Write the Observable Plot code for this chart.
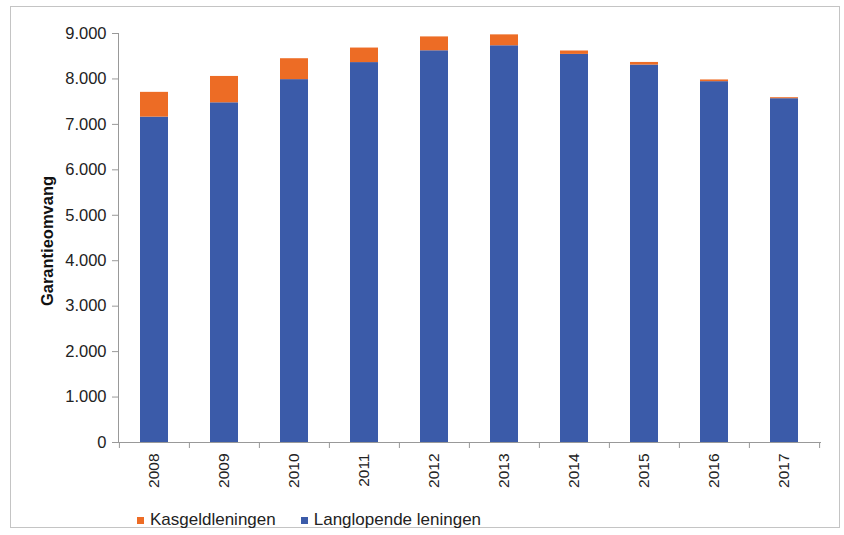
<!DOCTYPE html>
<html>
<head>
<meta charset="utf-8">
<script src="https://cdn.jsdelivr.net/npm/d3@7"></script>
<script src="https://cdn.jsdelivr.net/npm/@observablehq/plot@0.6"></script>
<style>
  html, body { margin: 0; padding: 0; background: #fff; }
  body { width: 844px; height: 535px; position: relative; overflow: hidden; font-family: "Liberation Sans", Arial, sans-serif; }
  #frame { position: absolute; left: 10px; top: 6px; width: 830px; height: 522px; border: 1px solid #c4c4c4; box-sizing: border-box; }
  #chart { position: absolute; left: 0; top: 0; }
  #legend { position: absolute; left: 137px; top: 509px; display: flex; align-items: center; font-size: 17px; color: #222; line-height: 22px; }
  .item { display: flex; align-items: center; margin-right: 25px; }
  .sw { width: 7px; height: 7px; margin-right: 6px; }
</style>
</head>
<body>
<div id="frame"></div>
<div id="chart"></div>
<div id="legend"></div>
<script>
const years = ["2008","2009","2010","2011","2012","2013","2014","2015","2016","2017"];
const langlopende = [7160, 7475, 7985, 8360, 8620, 8730, 8540, 8305, 7940, 7565];
const kasgeld = [545, 580, 460, 320, 305, 240, 75, 58, 38, 22];
const seriesNames = ["Langlopende leningen", "Kasgeldleningen"];
const seriesColors = ["#3b5ba9", "#ed6c25"];
const yTicks = [0, 1000, 2000, 3000, 4000, 5000, 6000, 7000, 8000, 9000];

const rows = [];
years.forEach((y, i) => {
  rows.push({year: y, series: seriesNames[0], value: langlopende[i]});
  rows.push({year: y, series: seriesNames[1], value: kasgeld[i]});
});

const W = 844, H = 500;
const mL = 118, mR = 24, mT = 33, mB = 58;
const step = (W - mL - mR) / years.length;
const fmt = d => d === 0 ? "0" : d3.format(",")(d).replace(/,/g, ".");

const chart = Plot.plot({
  width: W, height: H,
  marginLeft: mL, marginRight: mR, marginTop: mT, marginBottom: mB,
  style: {fontFamily: "'Liberation Sans', Arial, sans-serif", color: "#222", background: "transparent"},
  x: {domain: years, paddingInner: 0.6, paddingOuter: 0.3, label: null, axis: null},
  y: {domain: [0, 9000], label: null, axis: null},
  color: {domain: seriesNames, range: seriesColors},
  marks: [
    Plot.barY(rows, Plot.stackY({x: "year", y: "value", fill: "series", order: seriesNames})),
    Plot.axisY({ticks: yTicks, tickFormat: fmt, tickSize: 6, tickPadding: 6, stroke: "#999", fontSize: 16.5, fill: "#222"}),
    Plot.axisX({tickSize: 0, tickPadding: 11, tickRotate: -90, fontSize: 15.5, fill: "#222"}),
    Plot.axisX({tickSize: 6, tickFormat: () => "", stroke: "#999", dx: -step / 2}),
    Plot.axisX({ticks: [years[years.length - 1]], tickSize: 6, tickFormat: () => "", stroke: "#999", dx: step / 2}),
    Plot.frame({anchor: "left", stroke: "#999"}),
    Plot.frame({anchor: "bottom", stroke: "#999"}),
    Plot.text(["Garantieomvang"], {frameAnchor: "left", dx: -71, dy: 3, rotate: -90, textAnchor: "middle", fontSize: 16.5, fontWeight: "bold", fill: "#111"})
  ]
});
document.getElementById("chart").appendChild(chart);

const legend = document.getElementById("legend");
[1, 0].forEach(i => {
  const item = document.createElement("div");
  item.className = "item";
  const sw = document.createElement("span");
  sw.className = "sw";
  sw.style.background = seriesColors[i];
  const t = document.createElement("span");
  t.textContent = seriesNames[i];
  item.appendChild(sw); item.appendChild(t);
  legend.appendChild(item);
});
</script>
</body>
</html>
